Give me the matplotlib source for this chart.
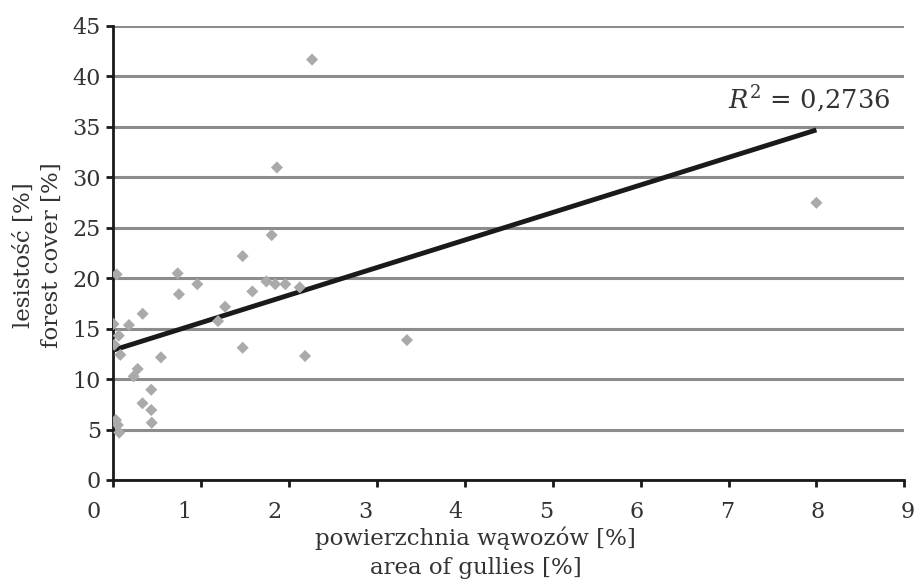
import numpy as np
import matplotlib.pyplot as plt
from matplotlib.transforms import ScaledTranslation

# dane
wawozy = [0.036, 0.73, 0.745, 0.954, 0.0, 0.176, 0.332, 0.06, 0.01, 0.078,
          0.54, 0.275, 0.23, 0.43, 0.33, 0.43, 0.435, 0.028, 0.05, 0.066,
          1.19, 1.27, 1.47, 1.47, 1.58, 1.80, 1.74, 1.84, 1.955, 2.26,
          1.86, 2.12, 2.18, 3.34, 8.0]
lesistosc = [20.37, 20.47, 18.4, 19.4, 15.45, 15.35, 16.47, 14.3, 13.4, 12.4,
             12.15, 11.0, 10.27, 8.94, 7.6, 6.93, 5.67, 5.94, 5.45, 4.69,
             15.74, 17.16, 22.18, 13.1, 18.68, 24.26, 19.67, 19.4, 19.4, 41.65,
             30.96, 19.08, 12.28, 13.86, 27.46]
r2_tekst = '0,2736'
x_ticks = list(range(0, 10))
y_ticks = list(range(0, 50, 5))

plt.rcParams['font.family'] = ['DejaVu Serif']
plt.rcParams['mathtext.fontset'] = 'dejavuserif'
kolor_tekstu = '#333333'

fig = plt.figure(figsize=(9.16, 5.85), dpi=100)
ax = fig.add_axes([0.1239, 0.1795, 0.8633, 0.7765])

# linia trendu
a, b = np.polyfit(wawozy, lesistosc, 1)
xt = np.array([0, max(wawozy)])
ax.plot(xt, a * xt + b, color='#1a1a1a', lw=3.5, zorder=3, solid_capstyle='butt')

ax.scatter(wawozy, lesistosc, marker='D', s=38, color='#aaaaaa', edgecolors='none', zorder=4)

ax.set_xlim(0, 9)
ax.set_ylim(0, 45)
ax.set_xticks(x_ticks)
ax.set_yticks(y_ticks)
ax.yaxis.grid(True, color='#8c8c8c', lw=2.2)
ax.set_axisbelow(True)

for s in ['top', 'right']:
    ax.spines[s].set_visible(False)
for s in ['left', 'bottom']:
    ax.spines[s].set_linewidth(2)
    ax.spines[s].set_color('#1a1a1a')
ax.tick_params(direction='out', length=5, width=2, color='#1a1a1a',
               labelsize=16, labelcolor=kolor_tekstu)
ax.tick_params(axis='x', pad=10)
ax.tick_params(axis='y', pad=4)

# etykiety osi x sa w oryginale lekko przesuniete wzgledem kresek
for i, lbl in enumerate(ax.get_xticklabels()):
    dx = (-20 + 2.6 * i) / 100
    lbl.set_transform(lbl.get_transform() + ScaledTranslation(dx, 0, fig.dpi_scale_trans))

ax.set_xlabel('powierzchnia wąwozów [%]\narea of gullies [%]', fontsize=16.5,
              color=kolor_tekstu, linespacing=1.45)
ax.xaxis.set_label_coords(0.458, -0.102)
ax.set_ylabel('lesistość [%]\nforest cover [%]', fontsize=16.5,
              color=kolor_tekstu, linespacing=1.35)
ax.yaxis.set_label_coords(-0.064, 0.495)

ax.text(8.84, 37.7, '$R^2$ = ' + r2_tekst, fontsize=18.5, color=kolor_tekstu,
        ha='right', va='center')

plt.savefig('out.png', dpi=100)
